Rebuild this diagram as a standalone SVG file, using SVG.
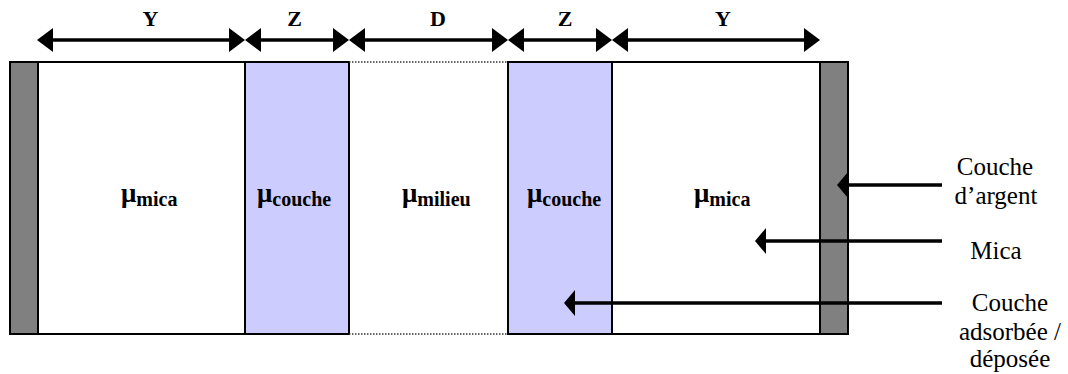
<svg xmlns="http://www.w3.org/2000/svg" width="1068" height="374" viewBox="0 0 1068 374">
<style>
.lay{stroke:#000;stroke-width:2}
.mica{fill:#fff}
.blue{fill:#ccccff}
.ag{fill:#808080}
.dot{stroke:#333;stroke-width:1.5;stroke-dasharray:1.5 1.5;fill:none}
.dim{stroke:#000;stroke-width:3.5;fill:none}
.ptr{stroke:#000;stroke-width:3.5;fill:none}
text{font-family:'Liberation Serif','Times New Roman',Times,serif}
.tl{font-weight:bold;font-size:22px;text-anchor:middle}
.mu{font-weight:bold;font-size:27px}
.sub{font-size:20px}
.lbl{font-size:25px;text-anchor:middle}
</style>
<defs>
<marker id="dimHead" viewBox="0 0 16 24" refX="8" refY="12" markerWidth="16" markerHeight="24" markerUnits="userSpaceOnUse" orient="auto-start-reverse">
<path d="M0,0 L16,12 L0,24 Z" fill="#000"/>
</marker>
<marker id="ptrHead" viewBox="0 0 11 26" refX="5" refY="13" markerWidth="11" markerHeight="26" markerUnits="userSpaceOnUse" orient="auto">
<path d="M0,0 L11,13 L0,26 Z" fill="#000"/>
</marker>
</defs>
<rect width="1068" height="374" fill="#fff"/>
<g id="mica-gauche"><rect class="lay mica" x="38" y="62" width="207" height="272"/><text class="mu" x="121" y="202">μ<tspan class="sub" dy="4">mica</tspan></text></g>
<g id="couche-gauche"><rect class="lay blue" x="245" y="62" width="104" height="272"/><text class="mu" x="257" y="202">μ<tspan class="sub" dy="4">couche</tspan></text></g>
<g id="milieu"><line class="dot" x1="349" y1="62" x2="508" y2="62"/><line class="dot" x1="349" y1="334" x2="508" y2="334"/><text class="mu" x="402" y="202">μ<tspan class="sub" dy="4">milieu</tspan></text></g>
<g id="couche-droite"><rect class="lay blue" x="508" y="62" width="104" height="272"/><text class="mu" x="527" y="202">μ<tspan class="sub" dy="4">couche</tspan></text></g>
<g id="mica-droite"><rect class="lay mica" x="612" y="62" width="208" height="272"/><text class="mu" x="694" y="202">μ<tspan class="sub" dy="4">mica</tspan></text></g>
<g id="argent-gauche"><rect class="lay ag" x="10" y="62" width="28" height="272"/></g>
<g id="argent-droite"><rect class="lay ag" x="820" y="62" width="28" height="272"/></g>
<g id="cotes">
<text class="tl" x="150.5" y="26">Y</text>
<text class="tl" x="294.5" y="26">Z</text>
<text class="tl" x="438" y="26">D</text>
<text class="tl" x="565" y="26">Z</text>
<text class="tl" x="723" y="26">Y</text>
</g>
<g id="legende">
<text class="lbl" x="995" y="175">Couche</text>
<text class="lbl" x="996" y="204">d’argent</text>
<text class="lbl" x="996" y="259">Mica</text>
<text class="lbl" x="1010" y="311">Couche</text>
<text class="lbl" x="1010" y="340">adsorbée /</text>
<text class="lbl" x="1010" y="367">déposée</text>
</g>
<g id="connecteurs">
<line class="dim" x1="45" y1="40" x2="237" y2="40" marker-start="url(#dimHead)" marker-end="url(#dimHead)"/>
<line class="dim" x1="253" y1="40" x2="341" y2="40" marker-start="url(#dimHead)" marker-end="url(#dimHead)"/>
<line class="dim" x1="357" y1="40" x2="500" y2="40" marker-start="url(#dimHead)" marker-end="url(#dimHead)"/>
<line class="dim" x1="516" y1="40" x2="604" y2="40" marker-start="url(#dimHead)" marker-end="url(#dimHead)"/>
<line class="dim" x1="620" y1="40" x2="812" y2="40" marker-start="url(#dimHead)" marker-end="url(#dimHead)"/>
<line class="ptr" x1="942" y1="185" x2="843" y2="185" marker-end="url(#ptrHead)"/>
<line class="ptr" x1="942" y1="241" x2="761" y2="241" marker-end="url(#ptrHead)"/>
<line class="ptr" x1="942" y1="303" x2="570" y2="303" marker-end="url(#ptrHead)"/>
</g>
</svg>
